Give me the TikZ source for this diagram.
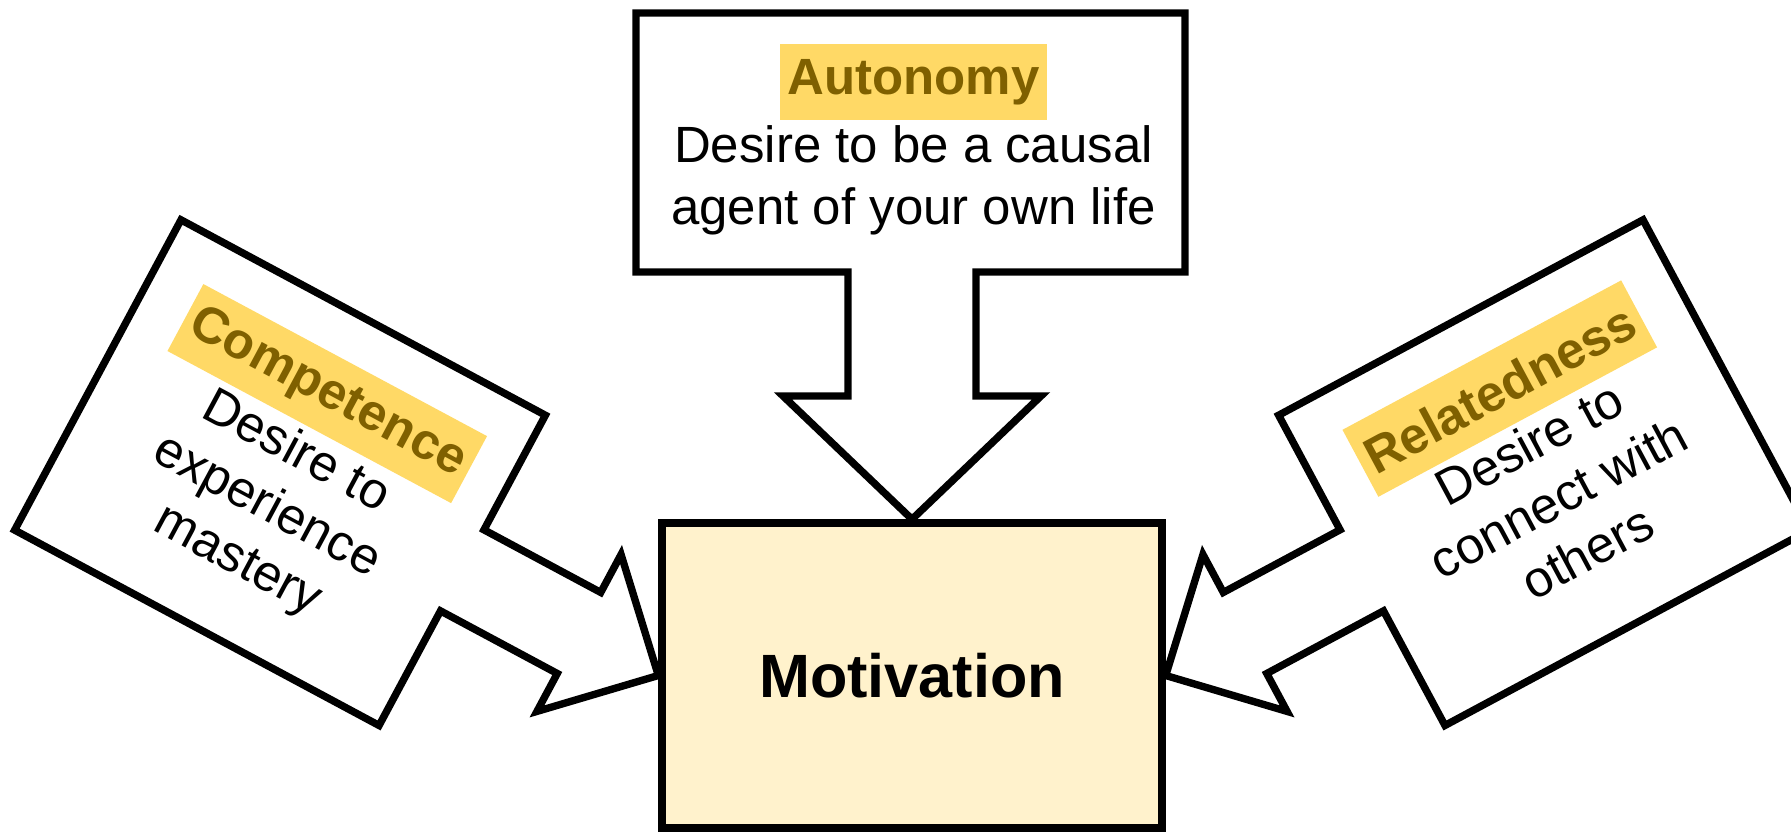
\documentclass[tikz,border=0pt]{standalone}
\usepackage{fontspec}
\setmainfont{Liberation Sans}
\usetikzlibrary{positioning}
\definecolor{gold_light}{RGB}{255,217,102}
\definecolor{gold_dark}{RGB}{127,96,0}
\definecolor{cream}{RGB}{255,242,204}

\tikzset{
	callout/.style={draw=black,fill=white,line width=2.1pt},
	needbox/.style={fill=gold_light,text=gold_dark,font=\fontsize{14.5}{17}\selectfont\bfseries,inner xsep=0.08cm,minimum height=0.76cm},
	needtext/.style={align=center,inner sep=0pt,font=\fontsize{14.5}{17.5}\selectfont}
}

\begin{document}
\begin{tikzpicture}
	\useasboundingbox (0,0) rectangle (17.91,8.32);

	\node[draw=black,fill=cream,line width=2.1pt,minimum width=5cm,minimum height=3.05cm,font=\fontsize{17.4}{20}\selectfont\bfseries] (motiv) at (9.12,1.565) {Motivation};

	% autonomy
	\draw[callout] (motiv.north) -- (7.83,4.36) -- (8.48,4.36) -- (8.48,5.60) -- (6.36,5.60) -- (6.36,8.19) -- (11.85,8.19) -- (11.85,5.60) -- (9.76,5.60) -- (9.76,4.36) -- (10.41,4.36) -- cycle;
	\node[needbox] (auttitle) at (9.135,7.495) {Autonomy};
	\node[needtext,below=0.04cm of auttitle] (autdesc) {Desire to be a causal\\agent of your own life};

	% competence
	\begin{scope}[shift={(motiv.west)},rotate=-28.2,transform shape]
		\draw[callout] (motiv.west) -- (-0.90,0.89) -- (-0.90,0.46) -- (-2.225,0.46) -- (-2.225,1.76) -- (-6.36,1.76) -- (-6.36,-1.76) -- (-2.225,-1.76) -- (-2.225,-0.46) -- (-0.90,-0.46) -- (-0.90,-0.89) -- cycle;
		\node[needbox] (comptitle) at (-4.25,0.92) {Competence};
		\node[needtext,below=0.04cm of comptitle] (compdesc) {Desire to\\experience\\mastery};
	\end{scope}

	% relatedness
	\begin{scope}[shift={(motiv.east)},rotate=28.2,transform shape]
		\draw[callout] (motiv.east) -- (0.90,0.89) -- (0.90,0.46) -- (2.225,0.46) -- (2.225,1.76) -- (6.36,1.76) -- (6.36,-1.76) -- (2.225,-1.76) -- (2.225,-0.46) -- (0.90,-0.46) -- (0.90,-0.89) -- cycle;
		\node[needbox] (reltitle) at (4.30,0.95) {Relatedness};
		\node[needtext,below=0.04cm of reltitle] (reldesc) {Desire to\\connect with\\others};
	\end{scope}
\end{tikzpicture}
\end{document}
